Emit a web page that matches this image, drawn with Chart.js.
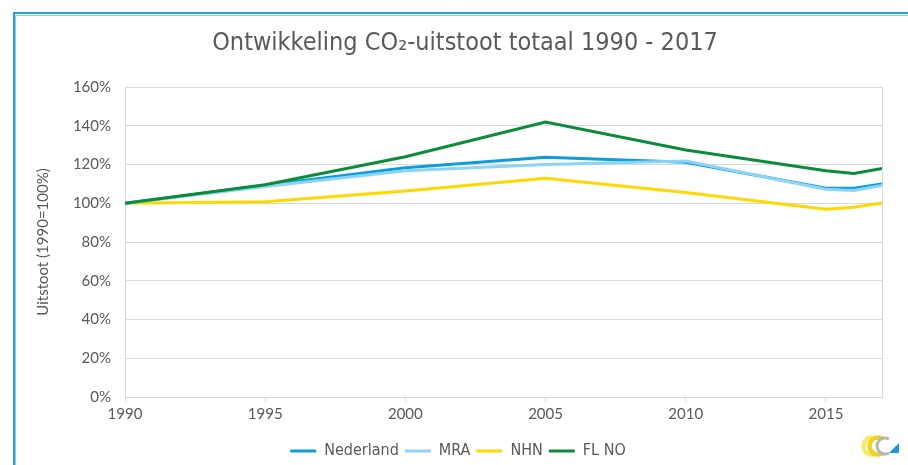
<!DOCTYPE html>
<html>
<head>
<meta charset="utf-8">
<script src="https://cdn.jsdelivr.net/npm/chart.js@4"></script>
<style>
html,body{margin:0;padding:0;background:#fff;}
#wrap{width:908px;height:465px;position:relative;}
</style>
</head>
<body>
<div id="wrap"><canvas id="c" width="908" height="465"></canvas></div>
<script>
const years = [1990, 1995, 2000, 2005, 2010, 2015, 2016, 2017];
const nederland = [100, 109.3, 118.3, 123.7, 121.2, 107.8, 107.7, 110.0];
const mra = [100, 108.6, 116.8, 120.0, 121.8, 107.2, 106.6, 109.2];
const nhn = [100, 100.8, 106.3, 112.9, 105.5, 96.9, 97.9, 100.2];
const flno = [100, 109.6, 124.0, 141.9, 127.5, 116.8, 115.4, 118.0];
const seriesNames = ['Nederland', 'MRA', 'NHN', 'FL NO'];
const titleText = 'Ontwikkeling CO\u2082-uitstoot totaal 1990 - 2017';
const yTitle = 'Uitstoot (1990=100%)';

const pts = arr => arr.map((v, i) => ({x: years[i], y: v}));

const frame = {
  id: 'frame',
  afterLayout(chart) {
    if (chart.titleBlock) { chart.titleBlock.left += 17; chart.titleBlock.right += 17; }
    if (chart.legend) {
      chart.legend.left += 10; chart.legend.right += 10;
      chart.legend.top += 4; chart.legend.bottom += 4;
    }
  },
  beforeDraw(chart) {
    const ctx = chart.ctx;
    ctx.save();
    ctx.fillStyle = '#fff';
    ctx.fillRect(0, 0, chart.width, chart.height);
    ctx.restore();
  },
  afterDraw(chart) {
    const ctx = chart.ctx;
    const a = chart.chartArea;
    ctx.save();
    ctx.strokeStyle = '#d9d9d9';
    ctx.lineWidth = 1;
    ctx.beginPath();
    ctx.moveTo(Math.round(a.right) + 0.5, a.top);
    ctx.lineTo(Math.round(a.right) + 0.5, a.bottom);
    ctx.stroke();
    ctx.strokeStyle = '#8fd0ee';
    ctx.lineWidth = 1;
    ctx.beginPath();
    ctx.moveTo(15.5, chart.height); ctx.lineTo(15.5, 15.5); ctx.lineTo(chart.width, 15.5);
    ctx.stroke();
    ctx.strokeStyle = '#2a9fd6';
    ctx.lineWidth = 2;
    ctx.beginPath();
    ctx.moveTo(14, chart.height); ctx.lineTo(14, 13); ctx.lineTo(chart.width, 13);
    ctx.stroke();
    // logo
    ctx.lineCap = 'butt';
    ctx.lineWidth = 4.5;
    ctx.strokeStyle = '#f7ea6a';
    ctx.beginPath(); ctx.arc(872, 446, 8.5, Math.PI/3, 5*Math.PI/3, false); ctx.stroke();
    ctx.strokeStyle = '#efd321';
    ctx.beginPath(); ctx.arc(878, 446, 8.5, Math.PI/3, 5*Math.PI/3, false); ctx.stroke();
    ctx.strokeStyle = '#b5b5b5';
    ctx.lineWidth = 3;
    ctx.beginPath(); ctx.arc(885, 446, 8, Math.PI/3, 5*Math.PI/3, false); ctx.stroke();
    ctx.fillStyle = '#1a9ad6';
    ctx.beginPath(); ctx.moveTo(889, 453); ctx.lineTo(899, 453); ctx.lineTo(899, 443); ctx.closePath(); ctx.fill();
    ctx.restore();
  }
};

const mk = (label, data, color, order) => ({
  label, data: pts(data), borderColor: color, backgroundColor: color,
  borderWidth: 3, pointRadius: 0, pointHoverRadius: 0, tension: 0, fill: false, order
});

new Chart(document.getElementById('c'), {
  type: 'line',
  data: {
    datasets: [
      mk(seriesNames[0], nederland, '#0b9edb', 2),
      mk(seriesNames[1], mra, '#8dd3f8', 1),
      mk(seriesNames[2], nhn, '#ffd800', 3),
      mk(seriesNames[3], flno, '#0b8c3b', 0)
    ]
  },
  options: {
    responsive: false,
    animation: false,
    events: [],
    layout: {padding: {left: 14, right: 26, top: 14, bottom: 0}},
    plugins: {
      title: {
        display: true, text: titleText, color: '#595959',
        font: {family: 'DejaVu Sans Condensed', size: 25, weight: 'normal'},
        padding: {top: 14, bottom: 29}
      },
      legend: {
        position: 'bottom',
        labels: {
          usePointStyle: true, pointStyle: 'line', pointStyleWidth: 26,
          boxHeight: 8,
          color: '#595959', font: {family: 'DejaVu Sans Condensed', size: 16},
          padding: 6,
          sort: (a, b) => a.datasetIndex - b.datasetIndex
        }
      },
      tooltip: {enabled: false}
    },
    scales: {
      x: {
        type: 'linear', min: 1990, max: 2017,
        ticks: {stepSize: 5, includeBounds: false, color: '#595959',
          font: {family: 'Lato', size: 15}, padding: 3, maxRotation: 0,
          callback: v => String(v)},
        grid: {drawOnChartArea: false, drawTicks: true, tickLength: 5, color: '#d9d9d9'},
        border: {color: '#d9d9d9'},
        afterFit(s) { s.height = 36; }
      },
      y: {
        min: 0, max: 160,
        ticks: {stepSize: 20, color: '#595959', font: {family: 'Lato', size: 15}, padding: 14,
          callback: v => v + '%'},
        grid: {color: '#d9d9d9', drawTicks: false},
        border: {color: '#d9d9d9'},
        title: {display: true, text: yTitle, color: '#595959',
          font: {family: 'Lato', size: 15}, padding: {top: 20, bottom: 0}},
        afterFit(s) { s.width = 111; }
      }
    }
  },
  plugins: [frame]
});
</script>
</body>
</html>
